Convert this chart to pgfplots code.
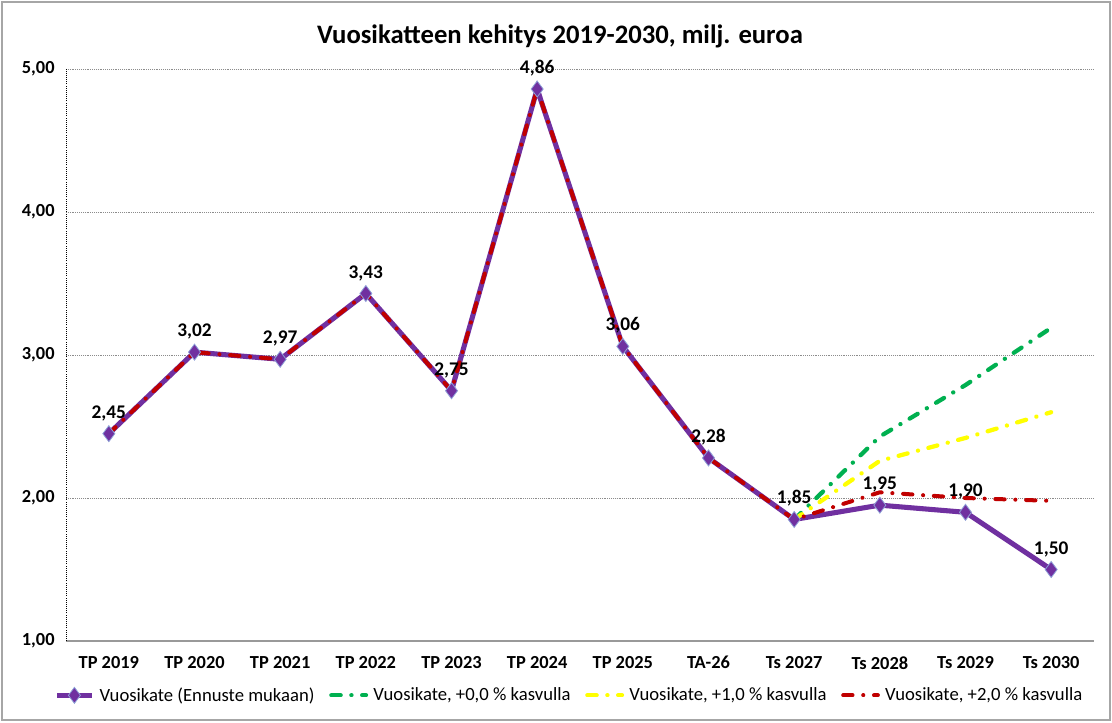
\documentclass[border=0pt]{standalone}
\usepackage{fontspec}
\setmainfont{Carlito}
\usepackage{pgfplots}
\pgfplotsset{compat=1.18}

\definecolor{vkpurple}{HTML}{7030A0}
\definecolor{vkedge}{HTML}{8EA0D8}
\definecolor{vkgreen}{HTML}{00B050}
\definecolor{vkyellow}{HTML}{FFFF00}
\definecolor{vkred}{HTML}{C00000}

\begin{document}
\begin{tikzpicture}[x=1pt,y=1pt]
\useasboundingbox (0,0) rectangle (834,541.5);
\draw[gray!70, line width=1pt] (1.5,1.5) rectangle (832.5,540);
\node[font=\bfseries\fontsize{20}{24}\selectfont] at (420,514) {Vuosikatteen kehitys 2019-2030, milj. euroa};
\begin{axis}[
    at={(49.5pt,60.75pt)}, anchor=south west,
    scale only axis, width=771pt, height=429pt,
    xmin=-0.5, xmax=11.5, ymin=1, ymax=5,
    xtick={0,...,11},
    xticklabels={TP 2019,TP 2020,TP 2021,TP 2022,TP 2023,TP 2024,TP 2025,TA-26,Ts 2027,Ts 2028,Ts 2029,Ts 2030},
    ytick={1,2,3,4,5},
    major tick length=0pt,
    axis x line*=bottom, axis y line*=left,
    x axis line style={gray!80, line width=0.8pt},
    y axis line style={black, densely dotted, line width=0.6pt},
    ymajorgrids, grid style={densely dotted, gray!90, line width=0.6pt},
    tick label style={font=\bfseries\fontsize{13.8}{16}\selectfont},
    /pgf/number format/assume math mode=true,
    yticklabel={\pgfmathprintnumber[fixed,fixed zerofill,precision=2,use comma]{\tick}},
    yticklabel style={xshift=-5pt},
    xticklabel style={yshift=-8pt},
    clip=false,
    legend columns=4,
    legend style={at={(0.49,-0.095)}, anchor=center, draw=none, fill=none,
        font=\fontsize{14}{16}\selectfont,
        /tikz/every odd column/.append style={column sep=2pt},
        /tikz/every even column/.append style={column sep=9pt}},
    legend image code/.code={\draw[mark repeat=2,mark phase=2] plot coordinates {(0pt,0pt) (13pt,0pt) (26pt,0pt)};},
]
\addplot[color=vkpurple, line width=3.8pt, mark=diamond*, mark size=6pt,
    mark options={solid, fill=vkpurple, draw=vkedge, line width=0.6pt},
    nodes near coords={\pgfmathprintnumber[fixed,fixed zerofill,precision=2,use comma]{\pgfplotspointmeta}},
    every node near coord/.append style={font=\bfseries\fontsize{14.5}{16}\selectfont, black, yshift=6pt}]
coordinates {
(0,2.45) (1,3.02) (2,2.97) (3,3.43) (4,2.75) (5,4.86) (6,3.06) (7,2.28) (8,1.85) (9,1.95) (10,1.90) (11,1.50)
};
\addlegendentry{Vuosikate (Ennuste mukaan)}
\addplot[color=vkgreen, line width=3.2pt, line cap=round, dash pattern=on 7pt off 8pt on 0.1pt off 8pt]
coordinates {(8,1.85) (9,2.43) (10,2.79) (11,3.19)};
\addlegendentry{Vuosikate, +0,0 \% kasvulla}
\addplot[color=vkyellow, line width=3.2pt, line cap=round, dash pattern=on 7pt off 8pt on 0.1pt off 8pt]
coordinates {(8,1.85) (9,2.26) (10,2.42) (11,2.60)};
\addlegendentry{Vuosikate, +1,0 \% kasvulla}
\addplot[color=vkred, line width=3pt, line cap=round, dash pattern=on 7pt off 8pt on 0.1pt off 8pt]
coordinates {
(0,2.45) (1,3.02) (2,2.97) (3,3.43) (4,2.75) (5,4.86) (6,3.06) (7,2.28) (8,1.85) (9,2.04) (10,2.00) (11,1.98)
};
\addlegendentry{Vuosikate, +2,0 \% kasvulla}
\end{axis}
\end{tikzpicture}
\end{document}
